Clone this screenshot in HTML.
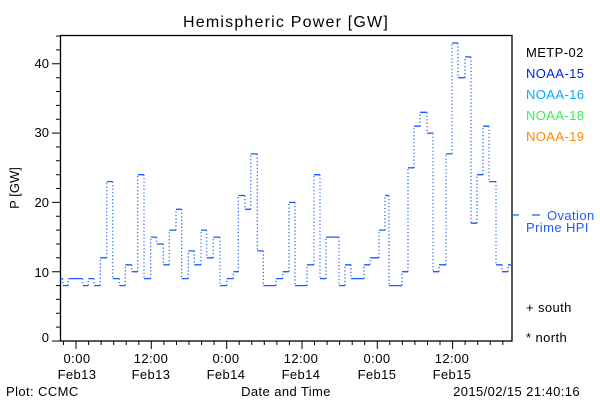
<!DOCTYPE html>
<html><head><meta charset="utf-8"><style>
html,body{margin:0;padding:0;background:#fff;}
svg{display:block;font-family:"Liberation Sans",sans-serif;}
</style></head><body>
<svg id="s" width="600" height="400" viewBox="0 0 600 400" xmlns="http://www.w3.org/2000/svg">
<rect width="600" height="400" fill="#fff"/>
<text x="286" y="27" font-size="16" letter-spacing="1.2" text-anchor="middle">Hemispheric Power [GW]</text>
<rect x="60.5" y="35.5" width="451.5" height="305.5" fill="none" stroke="#000" stroke-width="1.3"/>
<g font-size="13" text-anchor="end">
<text x="49" y="68">40</text><text x="49" y="137">30</text><text x="49" y="207">20</text><text x="49" y="277">10</text><text x="49" y="342">0</text>
</g>
<text transform="translate(19,188) rotate(-90)" font-size="13" text-anchor="middle">P [GW]</text>
<g font-size="13" text-anchor="middle" letter-spacing="0.4">
<text x="77" y="363">0:00</text><text x="77" y="379">Feb13</text>
<text x="151" y="363">12:00</text><text x="151" y="379">Feb13</text>
<text x="226" y="363">0:00</text><text x="226" y="379">Feb14</text>
<text x="301" y="363">12:00</text><text x="301" y="379">Feb14</text>
<text x="377" y="363">0:00</text><text x="377" y="379">Feb15</text>
<text x="452" y="363">12:00</text><text x="452" y="379">Feb15</text>
</g>
<text x="6" y="396" font-size="13" letter-spacing="0.4">Plot: CCMC</text>
<text x="286" y="396" font-size="13" text-anchor="middle" letter-spacing="0.4">Date and Time</text>
<text x="580" y="396" font-size="13" text-anchor="end" letter-spacing="0.4">2015/02/15 21:40:16</text>
<g font-size="13" letter-spacing="0.4">
<text x="526" y="57" fill="#000">METP-02</text>
<text x="526" y="78" fill="#0022dd">NOAA-15</text>
<text x="526" y="99" fill="#00aaff">NOAA-16</text>
<text x="526" y="120" fill="#33ee55">NOAA-18</text>
<text x="526" y="141" fill="#ff8800">NOAA-19</text>
<text x="547" y="220" fill="#1a5cff">Ovation</text>
<text x="526" y="232" fill="#1a5cff">Prime HPI</text>
<text x="526" y="312" fill="#000">+ south</text>
<text x="526" y="342" fill="#000">* north</text>
</g>
<path d="M512 215H519M532 215H540" stroke="#1a5cff" stroke-width="1.3"/>
<g id="ax" stroke="#000" stroke-width="1"></g>
<g id="d"></g>
</svg>
<script>
var ax=document.getElementById('ax'),d=document.getElementById('d'),ns='http://www.w3.org/2000/svg';
function Y(v){return 341-6.93*v;}
var p='';
for(var v=0;v<=44;v+=2){var y=Y(v);p+='M'+(v%10==0?52:56)+' '+y.toFixed(1)+'H60.5';}
for(var x=63.5;x<512;x+=12.55){var maj=Math.abs(((x-76)/75.3)-Math.round((x-76)/75.3))<0.05;p+='M'+x.toFixed(1)+' 341V'+(maj?349:345);}
var e=document.createElementNS(ns,'path');e.setAttribute('d',p);ax.appendChild(e);
var s=[[60.5,9],[62.7,8],[68.3,9],[82.7,8],[88.3,9],[94,8],[100.3,12],[106.7,23],[112.7,9],[119.3,8],[125.3,11],[131.7,10],[137.7,24],[144,9],[150.7,15],[156.7,14],[163.3,11],[169.3,16],[176,19],[181.7,9],[188.3,13],[194.3,11],[201,16],[206.7,12],[213.3,15],[220,8],[226.7,9],[233.3,10],[238.3,21],[245,19],[250.7,27],[257.3,13],[263.3,8],[276,9],[282.7,10],[289,20],[295,8],[307,11],[314,24],[320,9],[326,15],[339,8],[345,11],[351,9],[364,11],[370,12],[379,16],[385,21],[389,8],[402,10],[408,25],[414,31],[420,33],[427,30],[433,10],[439,11],[446,27],[452,43],[458,38],[465,41],[471,17],[477,24],[483,31],[489,23],[496,11],[502,10],[508,11]];
var h='',vv='';
for(var i=0;i<s.length;i++){var x0=s[i][0],x1=i+1<s.length?s[i+1][0]:512,y=Y(s[i][1]).toFixed(1);h+='M'+x0+' '+y+'H'+x1;
if(i+1<s.length){vv+='M'+x1+' '+y+'V'+Y(s[i+1][1]).toFixed(1);}}
var a=document.createElementNS(ns,'path');a.setAttribute('d',h);a.setAttribute('stroke','#1a5cff');a.setAttribute('stroke-width','1.3');a.setAttribute('fill','none');d.appendChild(a);
var b=document.createElementNS(ns,'path');b.setAttribute('d',vv);b.setAttribute('stroke','#1a5cff');b.setAttribute('stroke-width','1.2');b.setAttribute('stroke-dasharray','1.2 2.3');b.setAttribute('fill','none');d.appendChild(b);
</script>
</body></html>
